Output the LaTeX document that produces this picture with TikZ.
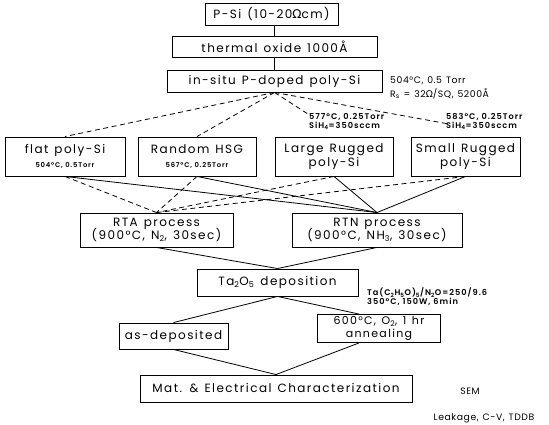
\documentclass[tikz,border=0pt]{standalone}
\usepackage{fontspec}
\setmainfont{Poppins}[LetterSpace=12, WordSpace=1.3]
\newfontfamily\grk{DejaVu Sans}
\newfontfamily\notefont{Poppins}[LetterSpace=12, UprightFont=*-SemiBold]
\newfontfamily\sidefont{Poppins}[LetterSpace=6, WordSpace=1.3]
\usetikzlibrary{calc}
\newcommand{\tinyf}{\notefont\fontsize{6.8}{8}\selectfont}
\begin{document}
\begin{tikzpicture}[x=1pt,y=-1pt,
  box/.style={draw, line width=0.9pt, inner sep=0pt, align=center, font=\fontsize{12}{14.5}\selectfont},
  note/.style={inner sep=0pt, align=left, font=\notefont\fontsize{8.2}{9}\selectfont},
  note2/.style={inner sep=0pt, align=left, font=\sidefont\fontsize{9.3}{14}\selectfont},
  conn/.style={line width=0.8pt},
  dconn/.style={line width=0.8pt, dash pattern=on 5pt off 3.5pt},
]
\useasboundingbox (0,0) rectangle (549,425);

% top column
\node[box, minimum width=133pt, minimum height=22pt] (psi) at (271.5,14) {P-Si (10-20{\grk Ω}cm)};
\node[box, minimum width=205pt, minimum height=21pt] (ox) at (274.5,46.5) {thermal oxide 1000Å};
\node[box, minimum width=215pt, minimum height=22pt] (ins) at (274.5,81) {in-situ P-doped poly-Si};
\node[note2, anchor=west] (n504) at (390,88) {504°C, 0.5 Torr\\R\textsubscript{s} = 32{\grk Ω}/SQ, 5200Å};

% row 4
\node[box, minimum width=120pt, minimum height=39pt] (flat) at (65,156.5) {flat poly-Si\\[0pt]{\tinyf 504°C, 0.5Torr}};
\node[box, minimum width=118pt, minimum height=39pt] (rand) at (197,156.5) {Random HSG\\[0pt]{\tinyf 567°C, 0.25Torr}};
\node[box, minimum width=118pt, minimum height=39pt] (large) at (334,156.5) {Large Rugged\\[-1pt]poly-Si};
\node[box, minimum width=109pt, minimum height=39pt] (small) at (465.5,156.5) {Small Rugged\\[-1pt]poly-Si};

\node[note, anchor=north west] (l577) at (309,113) {577°C, 0.25Torr\\SiH\textsubscript{4}=350sccm};
\node[note, anchor=north west] (l583) at (446,113) {583°C, 0.25Torr\\SiH\textsubscript{4}=350sccm};
\coordinate (e577) at (311,116);
\coordinate (e583) at (449,124);

% processes
\node[box, minimum width=153pt, minimum height=34pt] (rta) at (156.5,230) {RTA process\\[-1pt](900°C, N\textsubscript{2}, 30sec)};
\node[box, minimum width=170pt, minimum height=34pt] (rtn) at (377,230) {RTN process\\[-1pt](900°C, NH\textsubscript{3}, 30sec)};

\node[box, minimum width=161pt, minimum height=27pt] (ta) at (277.5,282.5) {Ta\textsubscript{2}O\textsubscript{5} deposition};
\node[note, anchor=west] (tanote) at (367,297) {Ta(C\textsubscript{2}H\textsubscript{5}O)\textsubscript{5}/N\textsubscript{2}O=250/9.6\\350°C, 150W, 6min};

\node[box, minimum width=109pt, minimum height=26pt] (asd) at (173.5,336) {as-deposited};
\node[box, minimum width=123pt, minimum height=28pt, font=\fontsize{11}{12}\selectfont] (ann) at (379,328.5) {600°C, O\textsubscript{2}, 1 hr\\[1pt]annealing};

\node[box, minimum width=272pt, minimum height=27pt] (mat) at (276,388.5) {Mat. \& Electrical Characterization};
\node[note2] (sem) at (470,391) {SEM};
\node[note2] (leak) at (484,418) {Leakage, C-V, TDDB};

% connectors
\draw[conn] (psi.south -| ox.north) -- (ox.north);
\draw[conn] (ox.south) -- (ins.north);

\draw[dconn] (ins.south) -- (flat.north);
\draw[dconn] (ins.south) -- (rand.north);
\draw[dconn] (ins.south) -- (e577);
\draw[dconn] (ins.south) -- (e583);

\foreach \b in {flat,rand,large,small}{
  \draw[dconn] (\b.south) -- (rta.north);
  \draw[conn] (\b.south) -- (rtn.north);
}

\draw[conn] (rta.south) -- (ta.north);
\draw[conn] (rtn.south) -- (ta.north);
\draw[conn] (ta.south) -- (asd.north);
\draw[conn] (ta.south) -- ([xshift=-20pt]ann.north);
\draw[conn] (asd.south) -- (mat.north);
\draw[conn] ([xshift=-20pt]ann.south) -- (mat.north);
\end{tikzpicture}
\end{document}
